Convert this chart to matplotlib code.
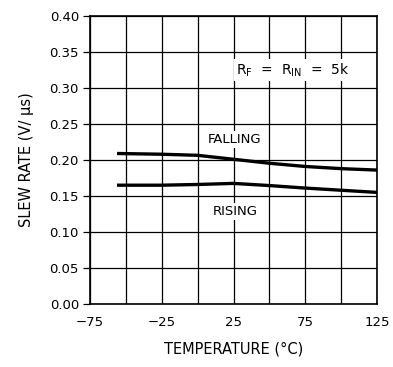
import matplotlib
matplotlib.use("Agg")
import matplotlib.pyplot as plt

# data
temp = [-55, -25, 0, 25, 50, 75, 100, 125]
falling = [0.209, 0.208, 0.2065, 0.201, 0.1955, 0.191, 0.188, 0.186]
rising = [0.165, 0.165, 0.166, 0.1675, 0.1645, 0.161, 0.158, 0.155]

x_ticks = [-75, -50, -25, 0, 25, 50, 75, 100, 125]
x_labels = ["\u221275", "", "\u221225", "", "25", "", "75", "", "125"]
y_ticks = [0.00, 0.05, 0.10, 0.15, 0.20, 0.25, 0.30, 0.35, 0.40]

fig = plt.figure(figsize=(3.93, 3.67), dpi=100)
ax = fig.add_axes([90/393, 1 - 304/367, 287/393, 288/367])

ax.plot(temp, falling, color="black", linewidth=2.4, zorder=3)
ax.plot(temp, rising, color="black", linewidth=2.4, zorder=3)

ax.set_xlim(-75, 125)
ax.set_ylim(0, 0.40)
ax.set_xticks(x_ticks)
ax.set_xticklabels(x_labels)
ax.set_yticks(y_ticks)
ax.set_yticklabels([f"{v:.2f}" for v in y_ticks])
ax.tick_params(axis="y", direction="out", length=5, width=0.9, labelsize=9.5, pad=3)
ax.tick_params(axis="x", length=0, labelsize=9.5, pad=9)
ax.grid(True, color="black", linewidth=0.9, zorder=1)
ax.set_axisbelow(True)
for s in ax.spines.values():
    s.set_linewidth(1.2)

ax.set_xlabel("TEMPERATURE (\u00b0C)", fontsize=10.5, labelpad=9)
ax.set_ylabel("SLEW RATE (V/ \u03bcs)", fontsize=10.5, labelpad=11)

wbox = dict(facecolor="white", edgecolor="none", pad=1.5)
ax.text(26, 0.228, "FALLING", ha="center", va="center", fontsize=9.5, bbox=wbox, zorder=2)
ax.text(26, 0.129, "RISING", ha="center", va="center", fontsize=9.5, bbox=wbox, zorder=2)
ax.text(27, 0.325, r"R$_\mathregular{F}$  =  R$_\mathregular{IN}$  =  5k", ha="left", va="center",
        fontsize=10, bbox=wbox, zorder=2)

fig.savefig("out.png", dpi=100, facecolor="white")
